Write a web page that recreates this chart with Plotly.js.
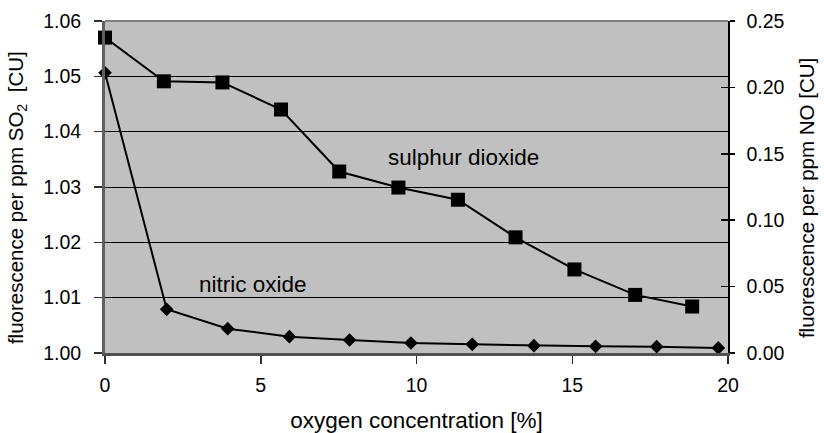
<!DOCTYPE html>
<html>
<head>
<meta charset="utf-8">
<script src="https://cdn.plot.ly/plotly-3.0.1.min.js"></script>
<style>html,body{margin:0;padding:0;background:#fff;}#chart{width:824px;height:433px;}</style>
</head>
<body>
<div id="chart"></div>
<script>
const oxygenSO2 = [0, 1.89, 3.77, 5.65, 7.52, 9.42, 11.33, 13.18, 15.07, 17.02, 18.85];
const so2Fluor = [1.0570, 1.0491, 1.0489, 1.0440, 1.0328, 1.0299, 1.0277, 1.0209, 1.0151, 1.0105, 1.0084];
const oxygenNO = [0, 1.98, 3.94, 5.92, 7.85, 9.82, 11.79, 13.77, 15.75, 17.71, 19.69];
const noFluor = [0.211, 0.0329, 0.0183, 0.0123, 0.0098, 0.0075, 0.0065, 0.0055, 0.0050, 0.0048, 0.0038];
const xTicks = [0, 5, 10, 15, 20];
const yLeftTicks = [1.00, 1.01, 1.02, 1.03, 1.04, 1.05, 1.06];
const yRightTicks = [0.00, 0.05, 0.10, 0.15, 0.20, 0.25];
const labelSO2 = 'sulphur dioxide';
const labelNO = 'nitric oxide';
const titleX = 'oxygen concentration [%]';
const titleYLeft = 'fluorescence per ppm SO<sub>2</sub>&nbsp; [CU]';
const titleYRight = 'fluorescence per ppm NO [CU]';

const FONT = 'Liberation Sans, Arial, sans-serif';

const traces = [
  {
    x: oxygenSO2, y: so2Fluor, type: 'scatter', mode: 'lines+markers', name: labelSO2,
    xaxis: 'x', yaxis: 'y', cliponaxis: false,
    line: {color: '#000', width: 2},
    marker: {symbol: 'square', size: 14, color: '#000'}
  },
  {
    x: oxygenNO, y: noFluor, type: 'scatter', mode: 'lines+markers', name: labelNO,
    xaxis: 'x', yaxis: 'y2', cliponaxis: false,
    line: {color: '#000', width: 2},
    marker: {symbol: 'diamond', size: 10.5, color: '#000'}
  },
  {
    x: [0], y: [0], xaxis: 'x', yaxis: 'y3', type: 'scatter', mode: 'markers',
    marker: {opacity: 0}, hoverinfo: 'skip', showlegend: false
  }
];

const layout = {
  width: 824, height: 433,
  margin: {l: 105, r: 96, t: 21, b: 80, pad: 0},
  paper_bgcolor: '#fff', plot_bgcolor: '#c0c0c0',
  showlegend: false,
  font: {family: FONT, color: '#000', size: 19},
  xaxis: {
    range: [0, 20], tickvals: xTicks, ticktext: xTicks.map(String),
    showgrid: false, zeroline: false,
    showline: true, linecolor: '#505050', linewidth: 3,
    ticks: 'outside', ticklen: 8, tickcolor: '#303030', tickwidth: 1.5,
    ticklabelstandoff: 5,
    tickfont: {size: 19.5},
    title: {text: titleX, font: {size: 22.5}, standoff: 27}
  },
  yaxis: {
    range: [1.00, 1.06], tickvals: yLeftTicks, ticktext: yLeftTicks.map(v => v.toFixed(2)),
    showgrid: true, gridcolor: '#000', gridwidth: 1, zeroline: false,
    showline: true, linecolor: '#606060', linewidth: 3,
    ticks: 'outside', ticklen: 8, tickcolor: '#303030', tickwidth: 1.5,
    ticklabelstandoff: 9,
    tickfont: {size: 19.5}
  },
  yaxis2: {
    range: [0, 0.25], tickvals: yRightTicks, ticktext: yRightTicks.map(v => v.toFixed(2)),
    overlaying: 'y', side: 'right', anchor: 'x',
    showgrid: false, zeroline: false,
    showline: true, linecolor: '#000', linewidth: 1.5,
    ticks: 'outside', ticklen: 5, tickcolor: '#000', tickwidth: 1.5,
    ticklabelstandoff: 8,
    tickfont: {size: 19.5}
  },
  yaxis3: {
    range: [0, 0.25], tickvals: yRightTicks,
    overlaying: 'y', side: 'right', anchor: 'x',
    showgrid: false, zeroline: false, showticklabels: false, showline: false,
    ticks: 'inside', ticklen: 7, tickcolor: '#000', tickwidth: 1.5
  },
  shapes: [
    {type: 'line', xref: 'paper', yref: 'paper', x0: 0, x1: 1, y0: 1, y1: 1,
     line: {color: '#808080', width: 2}}
  ],
  annotations: [
    {x: 11.52, y: 1.0354, xref: 'x', yref: 'y', text: labelSO2, showarrow: false,
     font: {size: 22.5, family: FONT, color: '#000'}},
    {x: 4.75, y: 1.0123, xref: 'x', yref: 'y', text: labelNO, showarrow: false,
     font: {size: 22.5, family: FONT, color: '#000'}},
    {x: -0.141, y: 0.467, xref: 'paper', yref: 'paper', text: titleYLeft, showarrow: false,
     textangle: -90, xanchor: 'center', yanchor: 'middle',
     font: {size: 20.5, family: FONT, color: '#000'}},
    {x: 1.127, y: 0.467, xref: 'paper', yref: 'paper', text: titleYRight, showarrow: false,
     textangle: -90, xanchor: 'center', yanchor: 'middle',
     font: {size: 20.5, family: FONT, color: '#000'}}
  ]
};

Plotly.newPlot('chart', traces, layout, {staticPlot: true, displayModeBar: false});
</script>
</body>
</html>
